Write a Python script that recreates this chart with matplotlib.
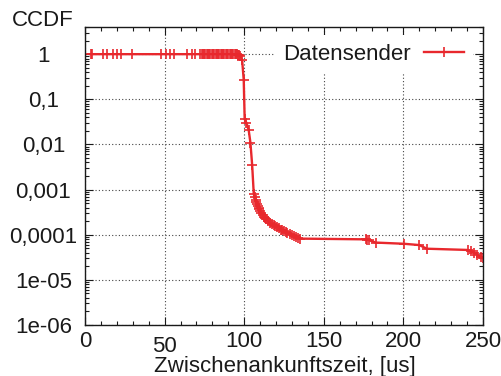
import matplotlib
matplotlib.use('Agg')
import matplotlib.pyplot as plt
from matplotlib.ticker import MultipleLocator, LogLocator, NullFormatter

plt.rcParams['font.family'] = ['Liberation Sans', 'DejaVu Sans']

# interarrival time [us] and CCDF
zeit = [3.6, 4.5, 11.1, 13.6, 17.8, 20.3, 22.7, 29.4, 47.9, 51.0, 53.5, 55.6,
        64.0, 67.1, 69.2, 72.4, 73.2, 74.0, 74.8, 75.6, 76.4, 77.2, 78.0, 78.8,
        79.6, 80.4, 81.2, 82.0, 82.8, 83.6, 84.4, 85.2, 86.0, 86.8, 87.6, 88.4,
        89.2, 90.0, 90.8, 91.6, 92.4, 93.2, 94.0, 94.8, 95.6, 96.4, 97.0, 97.6,
        98.7, 99.7, 100.3, 101.4, 102.8, 103.9, 105.0, 106.0, 106.5, 107.1,
        107.5, 108.0, 108.5, 109.1, 109.5, 110.0, 110.7, 111.5, 112.3, 113.0,
        114.0, 115.0, 116.5, 117.5, 118.5, 119.5, 120.7, 122.0, 123.0, 124.0,
        125.0, 126.0, 127.0, 128.5, 130.0, 131.0, 132.5, 133.5, 134.8,
        176.5, 177.4, 178.2, 182.6, 200.5, 210.0, 214.7, 240.3, 242.4, 244.4,
        246.5, 248.6, 250.3]
ccdf = [1.0, 1.0, 1.0, 1.0, 1.0, 1.0, 1.0, 1.0, 1.0, 1.0, 1.0, 1.0,
        1.0, 1.0, 1.0, 1.0, 1.0, 1.0, 1.0, 1.0, 1.0, 1.0, 1.0, 1.0,
        1.0, 1.0, 1.0, 1.0, 1.0, 1.0, 1.0, 1.0, 1.0, 1.0, 1.0, 1.0,
        1.0, 1.0, 1.0, 0.999, 0.998, 0.997, 0.995, 0.99, 0.985, 0.975, 0.96, 0.93,
        0.74, 0.27, 0.036, 0.030, 0.021, 0.011, 0.0035, 8.1e-4, 6.8e-4, 5.8e-4,
        5.2e-4, 4.7e-4, 4.3e-4, 3.9e-4, 3.7e-4, 3.4e-4, 3.1e-4, 2.8e-4, 2.5e-4, 2.4e-4,
        2.2e-4, 2.0e-4, 1.8e-4, 1.7e-4, 1.65e-4, 1.6e-4, 1.5e-4, 1.4e-4, 1.3e-4, 1.25e-4,
        1.2e-4, 1.15e-4, 1.1e-4, 1.05e-4, 1.0e-4, 9.6e-5, 9.0e-5, 8.5e-5, 8.2e-5,
        7.9e-5, 7.7e-5, 7.6e-5, 6.7e-5, 6.3e-5, 5.9e-5, 4.9e-5, 4.6e-5, 4.3e-5,
        4.0e-5, 3.6e-5, 3.2e-5, 3.0e-5]

xticks = [0, 50, 100, 150, 200, 250]
yticks = [1, 0.1, 0.01, 0.001, 0.0001, 1e-05, 1e-06]
ytick_labels = ['1', '0,1', '0,01', '0,001', '0,0001', '1e-05', '1e-06']

red = '#e8282d'
txt = '#1a1a1a'

fig = plt.figure(figsize=(5.02, 3.76), dpi=100)
ax = fig.add_axes([85/502, 1 - 325/376, 398/502, 298/376])

ax.plot(zeit, ccdf, color=red, lw=1.7, marker='+', ms=7, mew=1.2,
        label='Datensender')

ax.set_yscale('log')
ax.set_xlim(0, 250)
ax.set_ylim(1e-6, 4)

ax.set_xticks(xticks)
ax.set_xticklabels([str(t) for t in xticks])
ax.xaxis.set_minor_locator(MultipleLocator(10))
ax.set_yticks(yticks)
ax.set_yticklabels(ytick_labels)
ax.yaxis.set_minor_locator(LogLocator(base=10, subs=range(2, 10)))
ax.yaxis.set_minor_formatter(NullFormatter())

ax.tick_params(which='both', direction='in', top=True, right=True,
               colors=txt, labelsize=16)
ax.tick_params(which='major', length=6, width=0.8)
ax.tick_params(which='minor', length=3, width=0.8)
ax.tick_params(axis='x', pad=4)
ax.tick_params(axis='y', pad=30)
for lab in ax.get_yticklabels():
    lab.set_horizontalalignment('center')
# gnuplot puts the "50" slightly lower
ax.xaxis.get_major_ticks()[1].set_pad(8)

ax.grid(True, which='major', ls=(0, (1, 2)), color='#444444', lw=0.8)
for s in ax.spines.values():
    s.set_color(txt)
    s.set_linewidth(1.0)

fig.text(285/502, 1 - 372/376, 'Zwischenankunftszeit, [us]', fontsize=16,
         color=txt, ha='center', va='baseline')
fig.text(43/502, 1 - 20/376, 'CCDF', fontsize=16, color=txt,
         ha='center', va='center')

leg = ax.legend(loc='center right', bbox_to_anchor=(0.975, 0.909),
                markerfirst=False, fontsize=16, frameon=True, fancybox=False,
                framealpha=1.0, edgecolor='none', facecolor='white',
                handlelength=1.8, borderaxespad=0, borderpad=0.4,
                handletextpad=0.6)
for t in leg.get_texts():
    t.set_color(txt)

fig.savefig('out.png', dpi=100)
